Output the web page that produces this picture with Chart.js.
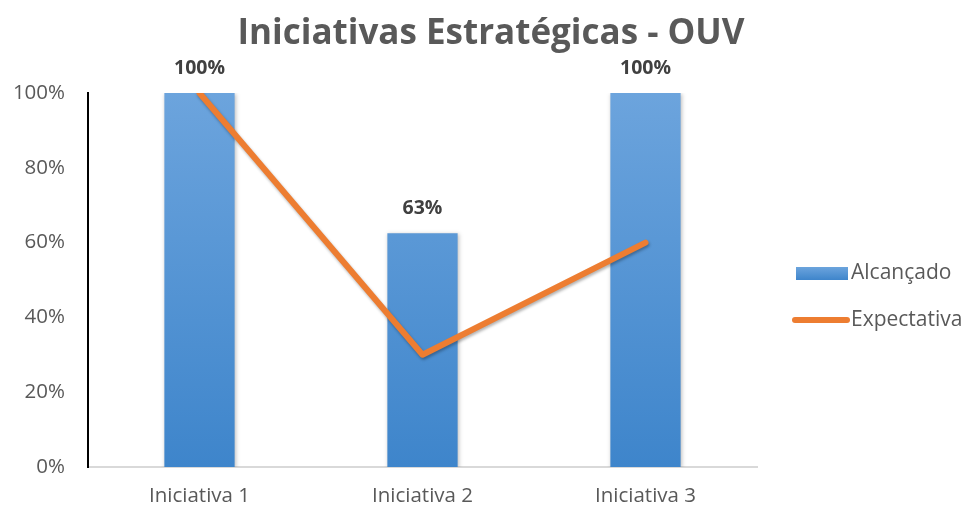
<!DOCTYPE html>
<html>
<head>
<meta charset="utf-8">
<script src="https://cdn.jsdelivr.net/npm/chart.js@4/dist/chart.umd.min.js"></script>
<style>
  html, body { margin: 0; padding: 0; background: #ffffff; }
  #wrap { width: 966px; height: 508px; position: relative; }
</style>
</head>
<body>
<div id="wrap"><canvas id="c" width="966" height="508"></canvas></div>
<script>
const chartTitle = "Iniciativas Estratégicas - OUV";
const categories = ["Iniciativa 1", "Iniciativa 2", "Iniciativa 3"];
const alcancado = [1.00, 0.625, 1.00];
const expectativa = [1.00, 0.30, 0.60];
const barLabels = ["100%", "63%", "100%"];
const seriesNames = ["Alcançado", "Expectativa"];
const yTicks = [0, 0.2, 0.4, 0.6, 0.8, 1.0];

const FONT = "'Open Sans', 'Liberation Sans', sans-serif";
const TEXT = "#595959";

function barGradient(context) {
  const chart = context.chart;
  const area = chart.chartArea;
  if (!area) return "#5b9bd5";
  const g = chart.ctx.createLinearGradient(0, area.top, 0, area.bottom);
  g.addColorStop(0, "#6ca4dd");
  g.addColorStop(1, "#3e85cb");
  return g;
}

const decorPlugin = {
  id: "decor",
  beforeDatasetDraw(chart, args) {
    const c = chart.ctx;
    c.save();
    if (args.index === 0) {
      c.shadowColor = "rgba(0,0,0,0.25)";
      c.shadowBlur = 4;
      c.shadowOffsetX = 1;
      c.shadowOffsetY = 1;
    } else {
      c.shadowColor = "rgba(0,0,0,0.3)";
      c.shadowBlur = 3;
      c.shadowOffsetX = 1;
      c.shadowOffsetY = 2;
    }
  },
  afterDatasetDraw(chart) {
    chart.ctx.restore();
  },
  afterDraw(chart) {
    const c = chart.ctx;
    const area = chart.chartArea;
    c.save();
    // Title
    c.fillStyle = TEXT;
    c.font = "bold 35px " + FONT;
    c.textAlign = "center";
    c.textBaseline = "middle";
    c.fillText(chartTitle, 491, 34);
    // Data labels on bars
    const meta = chart.getDatasetMeta(0);
    c.font = "bold 19.5px " + FONT;
    c.fillStyle = "#404040";
    meta.data.forEach((bar, i) => {
      c.fillText(barLabels[i], bar.x, bar.y - 25);
    });
    // Legend
    const lx = area.right + 39;
    c.font = "21px " + FONT;
    c.textAlign = "left";
    c.fillStyle = TEXT;
    const g = c.createLinearGradient(0, 267, 0, 280);
    g.addColorStop(0, "#6ca4dd");
    g.addColorStop(1, "#3e85cb");
    c.fillStyle = g;
    c.fillRect(lx, 267, 52, 13);
    c.fillStyle = TEXT;
    c.fillText(seriesNames[0], lx + 55, 273);
    c.strokeStyle = "#ed7d31";
    c.lineWidth = 6;
    c.lineCap = "round";
    c.beginPath();
    c.moveTo(lx - 1, 320);
    c.lineTo(lx + 51, 320);
    c.stroke();
    c.fillText(seriesNames[1], lx + 55, 320);
    c.restore();
  }
};

new Chart(document.getElementById("c"), {
  data: {
    labels: categories,
    datasets: [
      {
        type: "bar",
        label: seriesNames[0],
        data: alcancado,
        backgroundColor: barGradient,
        borderWidth: 0,
        categoryPercentage: 1.0,
        barPercentage: 0.315,
        order: 2
      },
      {
        type: "line",
        label: seriesNames[1],
        data: expectativa,
        borderColor: "#ed7d31",
        borderWidth: 6,
        borderCapStyle: "round",
        borderJoinStyle: "round",
        pointRadius: 0,
        tension: 0,
        fill: false,
        order: 1
      }
    ]
  },
  options: {
    responsive: false,
    animation: false,
    events: [],
    layout: { padding: { top: 93, right: 209, left: 0, bottom: 0 } },
    plugins: {
      legend: { display: false },
      title: { display: false },
      tooltip: { enabled: false }
    },
    scales: {
      x: {
        offset: true,
        grid: { display: false, drawTicks: false },
        border: { display: true, color: "#d9d9d9", width: 2 },
        ticks: { color: TEXT, font: { family: FONT, size: 20.5 }, padding: 17 },
        afterFit(scale) { scale.height = 41; }
      },
      y: {
        min: 0,
        max: 1,
        afterBuildTicks(scale) { scale.ticks = yTicks.map(v => ({ value: v })); },
        grid: { display: false, drawTicks: false },
        border: { display: true, color: "#000000", width: 2 },
        ticks: {
          color: TEXT,
          font: { family: FONT, size: 20.5 },
          padding: 23,
          callback: (v) => Math.round(v * 100) + "%"
        },
        afterFit(scale) { scale.width = 88; }
      }
    }
  },
  plugins: [decorPlugin]
});
</script>
</body>
</html>
